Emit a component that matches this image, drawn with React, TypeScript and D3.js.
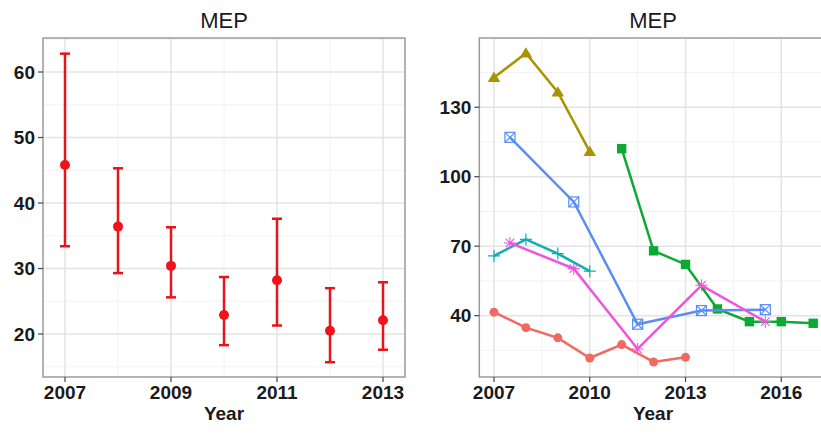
import React from "react";
import * as d3 from "d3";

// left panel: mean with error bars
const years = [2007, 2008, 2009, 2010, 2011, 2012, 2013];
const meanVals = [45.8, 36.4, 30.4, 22.9, 28.2, 20.5, 22.1];
const lowVals = [33.4, 29.3, 25.6, 18.3, 21.3, 15.7, 17.6];
const highVals = [62.8, 45.3, 36.3, 28.7, 37.6, 27.0, 27.9];
const leftYTicks = [20, 30, 40, 50, 60];
const leftXTicks = [2007, 2009, 2011, 2013];

// right panel: six series
const redYears = [2007, 2008, 2009, 2010, 2011, 2012, 2013];
const redVals = [41.5, 34.8, 30.4, 21.7, 27.5, 20.0, 22.0];
const oliveYears = [2007, 2008, 2009, 2010];
const oliveVals = [142.8, 153.3, 136.5, 110.8];
const greenYears = [2011, 2012, 2013, 2014, 2015, 2016, 2017];
const greenVals = [112.1, 68.0, 62.1, 42.9, 37.4, 37.4, 36.7];
const cyanYears = [2007, 2008, 2009, 2010];
const cyanVals = [65.8, 72.9, 66.8, 59.2];
const blueYears = [2007.5, 2009.5, 2011.5, 2013.5, 2015.5];
const blueVals = [117.0, 89.1, 36.3, 42.2, 42.6];
const magentaYears = [2007.5, 2009.5, 2011.5, 2013.5, 2015.5];
const magentaVals = [71.4, 60.3, 25.6, 53.1, 37.4];
const rightYTicks = [40, 70, 100, 130];
const rightXTicks = [2007, 2010, 2013, 2016];

const series = [
  { years: redYears, vals: redVals, color: "#F06A60", shape: "circle" },
  { years: oliveYears, vals: oliveVals, color: "#A99400", shape: "triangle" },
  { years: greenYears, vals: greenVals, color: "#0CAA34", shape: "square" },
  { years: cyanYears, vals: cyanVals, color: "#0AB0B3", shape: "plus" },
  { years: blueYears, vals: blueVals, color: "#5A8EF5", shape: "squarecross" },
  { years: magentaYears, vals: magentaVals, color: "#EE55DD", shape: "asterisk" },
];

const FONT = "'Liberation Sans', Arial, Helvetica, sans-serif";
const TOP = 38;
const BOTTOM = 377;

function Marker({ x, y, shape, color }: { x: number; y: number; shape: string; color: string }) {
  const s = 5;
  if (shape === "circle") return <circle cx={x} cy={y} r={4.5} fill={color} />;
  if (shape === "triangle")
    return <path d={`M${x},${y - 6} L${x + 6.3},${y + 4.3} L${x - 6.3},${y + 4.3} Z`} fill={color} />;
  if (shape === "square") return <rect x={x - 4.7} y={y - 4.7} width={9.4} height={9.4} fill={color} />;
  if (shape === "plus")
    return (
      <path d={`M${x - 6},${y} H${x + 6} M${x},${y - 6} V${y + 6}`} stroke={color} strokeWidth={1.2} fill="none" />
    );
  if (shape === "squarecross")
    return (
      <g stroke={color} strokeWidth={1.2} fill="none">
        <rect x={x - s} y={y - s} width={2 * s} height={2 * s} />
        <path d={`M${x - s},${y - s} L${x + s},${y + s} M${x + s},${y - s} L${x - s},${y + s}`} />
      </g>
    );
  // asterisk
  return (
    <path
      d={`M${x - 6},${y} H${x + 6} M${x},${y - 6} V${y + 6} M${x - 4.3},${y - 4.3} L${x + 4.3},${y + 4.3} M${x + 4.3},${y - 4.3} L${x - 4.3},${y + 4.3}`}
      stroke={color}
      strokeWidth={1.1}
      fill="none"
    />
  );
}

function Frame({
  x,
  y,
  xMajor,
  xMinor,
  yMajor,
  yMinor,
  left,
  right,
}: {
  x: d3.ScaleLinear<number, number>;
  y: d3.ScaleLinear<number, number>;
  xMajor: number[];
  xMinor: number[];
  yMajor: number[];
  yMinor: number[];
  left: number;
  right: number;
}) {
  return (
    <g>
      <rect x={left} y={TOP} width={right - left} height={BOTTOM - TOP} fill="white" />
      {yMinor.map((v) => (
        <line key={"ym" + v} x1={left} x2={right} y1={y(v)} y2={y(v)} stroke="#f0f0f0" strokeWidth={0.9} />
      ))}
      {xMinor.map((v) => (
        <line key={"xm" + v} x1={x(v)} x2={x(v)} y1={TOP} y2={BOTTOM} stroke="#f0f0f0" strokeWidth={0.9} />
      ))}
      {yMajor.map((v) => (
        <line key={"yM" + v} x1={left} x2={right} y1={y(v)} y2={y(v)} stroke="#e4e4e4" strokeWidth={1.5} />
      ))}
      {xMajor.map((v) => (
        <line key={"xM" + v} x1={x(v)} x2={x(v)} y1={TOP} y2={BOTTOM} stroke="#e4e4e4" strokeWidth={1.5} />
      ))}
    </g>
  );
}

function Axes({
  x,
  y,
  xTicks,
  yTicks,
  left,
  right,
}: {
  x: d3.ScaleLinear<number, number>;
  y: d3.ScaleLinear<number, number>;
  xTicks: number[];
  yTicks: number[];
  left: number;
  right: number;
}) {
  return (
    <g fontFamily={FONT}>
      <rect x={left} y={TOP} width={right - left} height={BOTTOM - TOP} fill="none" stroke="#9a9a9a" strokeWidth={1.5} />
      {yTicks.map((v) => (
        <g key={"yt" + v}>
          <line x1={left - 5} x2={left} y1={y(v)} y2={y(v)} stroke="#444" strokeWidth={1.2} />
          <text x={left - 8} y={y(v)} dy="0.35em" textAnchor="end" fontSize={19} fontWeight="bold" fill="#1a1a1a">
            {v}
          </text>
        </g>
      ))}
      {xTicks.map((v) => (
        <g key={"xt" + v}>
          <line x1={x(v)} x2={x(v)} y1={BOTTOM} y2={BOTTOM + 5} stroke="#444" strokeWidth={1.2} />
          <text x={x(v)} y={399} textAnchor="middle" fontSize={19} fontWeight="bold" fill="#1a1a1a">
            {v}
          </text>
        </g>
      ))}
    </g>
  );
}

export default function App() {
  // left panel scales
  const xL = d3.scaleLinear().domain([2006.585, 2013.415]).range([43, 405]);
  const yL = d3.scaleLinear().domain([13.44, 65.19]).range([BOTTOM, TOP]);
  // right panel scales
  const xR = d3.scaleLinear().domain([2006.54, 2017.46]).range([479.3, 827.9]);
  const yR = d3.scaleLinear().domain([13.5, 159.9]).range([BOTTOM, TOP]);

  const line = (xs: number[], vs: number[]) =>
    d3
      .line<number>()
      .x((_, i) => xR(xs[i]))
      .y((d) => yR(d))(vs) || "";

  return (
    <svg
      width={821}
      height={448}
      style={{ position: "absolute", left: 0, top: 0, background: "white" }}
      fontFamily={FONT}
    >
      <rect width={821} height={448} fill="white" />

      {/* left panel */}
      <Frame
        x={xL}
        y={yL}
        xMajor={leftXTicks}
        xMinor={[2008, 2010, 2012]}
        yMajor={leftYTicks}
        yMinor={[15, 25, 35, 45, 55, 65]}
        left={43}
        right={405}
      />
      {years.map((yr, i) => (
        <g key={"eb" + yr} stroke="#e8141c" strokeWidth={2.5}>
          <line x1={xL(yr)} x2={xL(yr)} y1={yL(lowVals[i])} y2={yL(highVals[i])} />
          <line x1={xL(yr) - 5} x2={xL(yr) + 5} y1={yL(lowVals[i])} y2={yL(lowVals[i])} />
          <line x1={xL(yr) - 5} x2={xL(yr) + 5} y1={yL(highVals[i])} y2={yL(highVals[i])} />
        </g>
      ))}
      {years.map((yr, i) => (
        <circle key={"pt" + yr} cx={xL(yr)} cy={yL(meanVals[i])} r={5} fill="#f0131b" />
      ))}
      <Axes x={xL} y={yL} xTicks={leftXTicks} yTicks={leftYTicks} left={43} right={405} />
      <text x={224} y={28} textAnchor="middle" fontSize={22} fill="#1a1a1a">
        MEP
      </text>
      <text x={224} y={420} textAnchor="middle" fontSize={19} fontWeight="bold" fill="#1a1a1a">
        Year
      </text>

      {/* right panel */}
      <Frame
        x={xR}
        y={yR}
        xMajor={rightXTicks}
        xMinor={[2008.5, 2011.5, 2014.5]}
        yMajor={rightYTicks}
        yMinor={[25, 55, 85, 115, 145]}
        left={479.3}
        right={827.9}
      />
      {series.map((s, k) => (
        <g key={"s" + k}>
          <path d={line(s.years, s.vals)} fill="none" stroke={s.color} strokeWidth={2.5} />
          {s.vals.map((v, i) => (
            <Marker key={i} x={xR(s.years[i])} y={yR(v)} shape={s.shape} color={s.color} />
          ))}
        </g>
      ))}
      <Axes x={xR} y={yR} xTicks={rightXTicks} yTicks={rightYTicks} left={479.3} right={827.9} />
      <text x={653} y={28} textAnchor="middle" fontSize={22} fill="#1a1a1a">
        MEP
      </text>
      <text x={653} y={420} textAnchor="middle" fontSize={19} fontWeight="bold" fill="#1a1a1a">
        Year
      </text>
    </svg>
  );
}
